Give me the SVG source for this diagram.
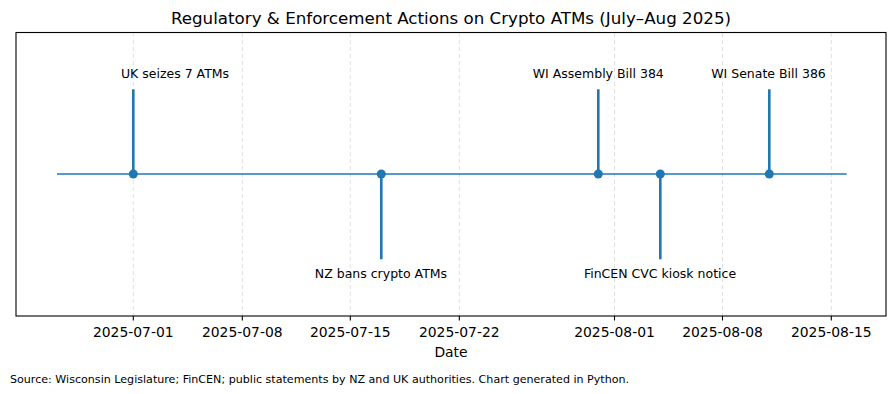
<svg xmlns="http://www.w3.org/2000/svg" width="895" height="394" viewBox="0 0 895 394">
<style>
text{font-family:"DejaVu Sans",sans-serif;fill:#000}
.title{font-size:16.7px;text-anchor:middle}
.lbl{font-size:12.5px;text-anchor:middle}
.tick{font-size:13.9px;text-anchor:middle}
.src{font-size:11.1px}
.grid line{stroke:#b0b0b0;stroke-opacity:0.5;stroke-width:0.8;stroke-dasharray:4,3}
.stem{stroke:#1f77b4;stroke-width:2.6}
.dot{fill:#1f77b4}
.tk{stroke:#000;stroke-width:1.1}
</style>
<rect width="895" height="394" fill="#fff"/>
<text class="title" x="451" y="24">Regulatory &amp; Enforcement Actions on Crypto ATMs (July–Aug 2025)</text>
<g class="grid">
<line x1="133.3" y1="33" x2="133.3" y2="316"/>
<line x1="242.3" y1="33" x2="242.3" y2="316"/>
<line x1="350.3" y1="33" x2="350.3" y2="316"/>
<line x1="459.3" y1="33" x2="459.3" y2="316"/>
<line x1="614.5" y1="33" x2="614.5" y2="316"/>
<line x1="722.5" y1="33" x2="722.5" y2="316"/>
<line x1="831.3" y1="33" x2="831.3" y2="316"/>
</g>
<g id="connectors">
<line x1="57" y1="174" x2="846.7" y2="174" stroke="#1f77b4" stroke-width="1.4"/>
<line class="stem" x1="133.3" y1="89.3" x2="133.3" y2="174"/>
<line class="stem" x1="381.3" y1="174" x2="381.3" y2="259.3"/>
<line class="stem" x1="598.3" y1="89.3" x2="598.3" y2="174"/>
<line class="stem" x1="660.3" y1="174" x2="660.3" y2="259.3"/>
<line class="stem" x1="769.3" y1="89.3" x2="769.3" y2="174"/>
</g>
<g id="uk"><circle class="dot" cx="133.3" cy="174" r="4.5"/><text class="lbl" x="175" y="78">UK seizes 7 ATMs</text></g>
<g id="nz"><circle class="dot" cx="381.3" cy="174" r="4.5"/><text class="lbl" x="381" y="278">NZ bans crypto ATMs</text></g>
<g id="wi-ab"><circle class="dot" cx="598.3" cy="174" r="4.5"/><text class="lbl" x="598.3" y="78">WI Assembly Bill 384</text></g>
<g id="fincen"><circle class="dot" cx="660.3" cy="174" r="4.5"/><text class="lbl" x="660" y="278">FinCEN CVC kiosk notice</text></g>
<g id="wi-sb"><circle class="dot" cx="769.3" cy="174" r="4.5"/><text class="lbl" x="768.5" y="78">WI Senate Bill 386</text></g>
<rect x="16" y="32.5" width="870" height="283.5" fill="none" stroke="#000" stroke-width="1.1"/>
<g class="tk">
<line x1="133.3" y1="316" x2="133.3" y2="320.5"/>
<line x1="242.3" y1="316" x2="242.3" y2="320.5"/>
<line x1="350.3" y1="316" x2="350.3" y2="320.5"/>
<line x1="459.3" y1="316" x2="459.3" y2="320.5"/>
<line x1="614.5" y1="316" x2="614.5" y2="320.5"/>
<line x1="722.5" y1="316" x2="722.5" y2="320.5"/>
<line x1="831.3" y1="316" x2="831.3" y2="320.5"/>
</g>
<text class="tick" x="133.3" y="336.5">2025-07-01</text>
<text class="tick" x="242.3" y="336.5">2025-07-08</text>
<text class="tick" x="350.3" y="336.5">2025-07-15</text>
<text class="tick" x="459.3" y="336.5">2025-07-22</text>
<text class="tick" x="614.5" y="336.5">2025-08-01</text>
<text class="tick" x="722.5" y="336.5">2025-08-08</text>
<text class="tick" x="831.3" y="336.5">2025-08-15</text>
<text class="tick" x="451" y="357">Date</text>
<text class="src" x="10" y="383">Source: Wisconsin Legislature; FinCEN; public statements by NZ and UK authorities. Chart generated in Python.</text>
</svg>
